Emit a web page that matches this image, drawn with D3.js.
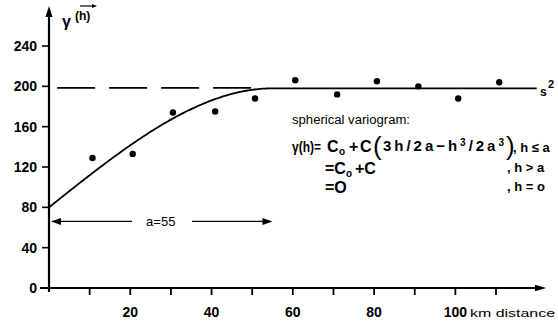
<!DOCTYPE html>
<html>
<head>
<meta charset="utf-8">
<title>Spherical variogram</title>
<script src="https://d3js.org/d3.v7.min.js"></script>
<style>
  body { margin: 0; background: #fff; }
  text { font-family: "Liberation Sans", Arial, sans-serif; fill: #000; }
</style>
</head>
<body>
<script>
// experimental variogram points (lag in km, semivariance)
const lags = [10.7, 20.6, 30.5, 40.9, 50.7, 60.6, 70.9, 80.7, 90.9, 100.7, 110.8];
const gammas = [129, 133, 174, 175, 188, 206, 192, 205, 200, 188, 204];

// axis ticks
const xTicks = [10, 20, 30, 40, 50, 60, 70, 80, 90, 100, 110];
const xLabels = [20, 40, 60, 80];
const yTicks = [0, 40, 80, 120, 160, 200, 240];

// fitted spherical model
const nugget = 80, partialSill = 118, range = 55;
const sillLine = 198.5;   // s^2 dashed line
const rangeArrowY = 66;

const W = 558, H = 322;
const x = d3.scaleLinear().domain([0, 110]).range([49, 496]);
const y = d3.scaleLinear().domain([0, 240]).range([288, 46]);

const svg = d3.select("body").append("svg")
  .attr("width", W).attr("height", H);

// arrowheads
function head(tipX, tipY, dir, len, half) {
  let pts;
  if (dir === "up") pts = [[tipX, tipY], [tipX - half, tipY + len], [tipX + half, tipY + len]];
  else if (dir === "right") pts = [[tipX, tipY], [tipX - len, tipY - half], [tipX - len, tipY + half]];
  else pts = [[tipX, tipY], [tipX + len, tipY - half], [tipX + len, tipY + half]];
  svg.append("path").attr("d", "M" + pts.join("L") + "Z").attr("fill", "#000");
}

function label(px, py, size, str, weight) {
  return svg.append("text").attr("x", px).attr("y", py).attr("font-size", size)
    .attr("font-weight", weight || "bold").text(str);
}

// y axis
svg.append("line").attr("x1", x(0)).attr("x2", x(0)).attr("y1", 292).attr("y2", 12)
  .attr("stroke", "#000").attr("stroke-width", 2.2);
head(x(0), 6, "up", 11, 3.5);
yTicks.forEach(t => {
  svg.append("line").attr("x1", x(0) - 7).attr("x2", x(0)).attr("y1", y(t)).attr("y2", y(t))
    .attr("stroke", "#000").attr("stroke-width", 1.6);
  svg.append("text").attr("x", 37).attr("y", y(t) + 5).attr("text-anchor", "end")
    .attr("font-size", 14).attr("font-weight", "bold").text(t);
});

// x axis
svg.append("line").attr("x1", 40).attr("x2", 540).attr("y1", y(0)).attr("y2", y(0))
  .attr("stroke", "#000").attr("stroke-width", 2);
head(546, y(0), "right", 11, 3.2);
xTicks.forEach(t => {
  svg.append("line").attr("x1", x(t)).attr("x2", x(t)).attr("y1", y(0)).attr("y2", y(0) + 7)
    .attr("stroke", "#000").attr("stroke-width", 1.8);
});
xLabels.forEach(t => {
  svg.append("text").attr("x", x(t)).attr("y", 317).attr("text-anchor", "middle")
    .attr("font-size", 14).attr("font-weight", "bold").text(t);
});
svg.append("text").attr("x", x(100)).attr("y", 317).attr("text-anchor", "middle")
  .attr("font-size", 14).attr("font-weight", "bold").text("100");
svg.append("text").attr("x", 470).attr("y", 317).attr("font-size", 11.5)
  .attr("textLength", 85).attr("lengthAdjust", "spacingAndGlyphs").text("km distance");

// y axis title: γ(h) with vector arrow over h
label(62, 27, 16, "γ");
label(75, 20, 12, "(h)");
svg.append("line").attr("x1", 80).attr("x2", 94).attr("y1", 6).attr("y2", 6)
  .attr("stroke", "#000").attr("stroke-width", 1.2);
head(97, 6, "right", 5, 2);

// dashed sill line s^2 (left part, before the model curve merges)
svg.append("line").attr("x1", x(2)).attr("x2", 262).attr("y1", y(sillLine)).attr("y2", y(sillLine))
  .attr("stroke", "#000").attr("stroke-width", 1.6).attr("stroke-dasharray", "38,14");
label(540, 96, 12, "s");
label(548, 88, 11, "2");

// spherical model curve
const sph = h => h <= range
  ? nugget + partialSill * (1.5 * h / range - 0.5 * Math.pow(h / range, 3))
  : nugget + partialSill;
const hs = d3.range(0, 120.01, 0.5);
svg.append("path")
  .attr("d", d3.line().x(h => x(h)).y(h => y(sph(h))).curve(d3.curveBasis)(hs))
  .attr("fill", "none").attr("stroke", "#000").attr("stroke-width", 1.8);

// data points
svg.selectAll("circle.pt").data(lags).enter().append("circle")
  .attr("class", "pt")
  .attr("cx", d => x(d)).attr("cy", (d, i) => y(gammas[i])).attr("r", 3.2)
  .attr("fill", "#000");

// range arrow a=55
const ay = y(rangeArrowY);
svg.append("line").attr("x1", x(0) + 3).attr("x2", 132).attr("y1", ay).attr("y2", ay)
  .attr("stroke", "#000").attr("stroke-width", 1.3);
svg.append("line").attr("x1", 192).attr("x2", x(range) - 3).attr("y1", ay).attr("y2", ay)
  .attr("stroke", "#000").attr("stroke-width", 1.3);
head(x(0) + 2, ay, "left", 10, 3.5);
head(x(range), ay, "right", 10, 3.5);
svg.append("text").attr("x", (x(0) + x(range)) / 2).attr("y", ay + 5).attr("text-anchor", "middle")
  .attr("font-size", 13).text("a=55");

// formula block
svg.append("text").attr("x", 292).attr("y", 124).attr("font-size", 12)
  .attr("textLength", 118).attr("lengthAdjust", "spacingAndGlyphs").text("spherical variogram:");

// line 1: γ(h) = C0 + C (3h/2a - h^3/2a^3), h <= a
label(292, 152, 15, "γ(h)=").attr("textLength", 29).attr("lengthAdjust", "spacingAndGlyphs");
label(327, 152, 16, "C");
label(339, 155, 10, "o");
label(349, 152, 16, "+");
label(360, 152, 16, "C");
label(373, 155, 26, "(", "normal");
const inner = label(383, 151, 15, "")
  .attr("textLength", 121).attr("lengthAdjust", "spacing");
inner.append("tspan").text("3h/2a−h");
inner.append("tspan").attr("font-size", 10).attr("dy", -5).text("3");
inner.append("tspan").attr("dy", 5).text("/2a");
inner.append("tspan").attr("font-size", 10).attr("dy", -5).text("3");
label(506, 155, 26, ")", "normal");
label(513, 152, 13, ", h ≤ a");

// line 2: = C0 + C
label(325, 174, 16, "=C");
label(346, 177, 10, "o");
label(355, 174, 16, "+C");
label(507, 172, 13, ", h > a");

// line 3: = 0
label(325, 193, 16, "=O");
label(507, 191, 13, ", h = o");
</script>
</body>
</html>
